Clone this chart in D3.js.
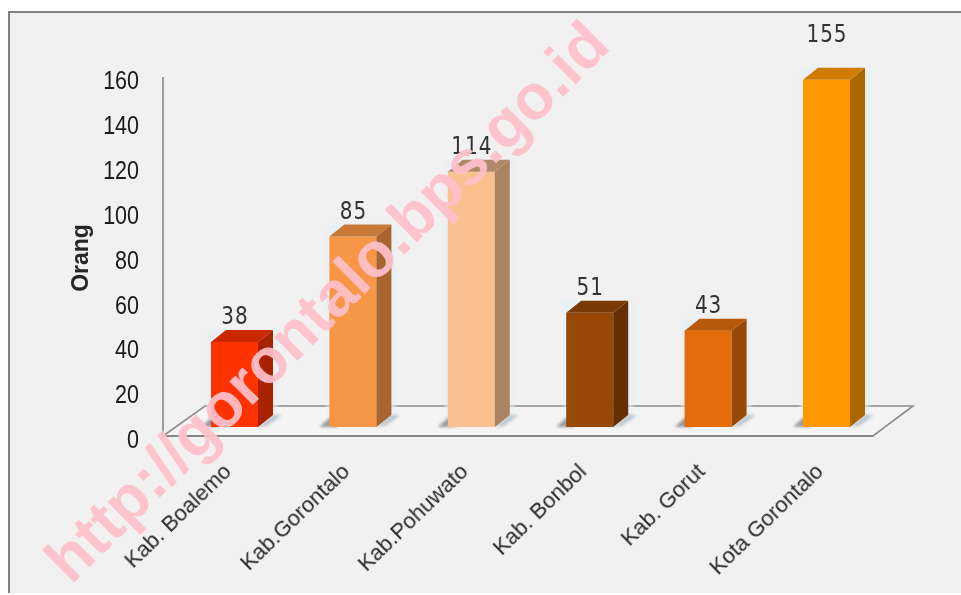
<!DOCTYPE html>
<html><head><meta charset="utf-8">
<script src="https://cdn.jsdelivr.net/npm/d3@7"></script>
<style>html,body{margin:0;padding:0;background:#fff}svg{display:block}text{font-family:"Liberation Sans",Arial,sans-serif}</style>
</head><body><div id="c"></div>
<script>
const categories=["Kab. Boalemo","Kab.Gorontalo","Kab.Pohuwato","Kab. Bonbol","Kab. Gorut","Kota Gorontalo"];
const values=[38,85,114,51,43,155];
const frontColors=["#ff3300","#f79646","#fac090","#984807","#e46c0a","#ff9900"];
const sideColors=["#a82200","#a8652f","#ab8361","#662f02","#984807","#ac6700"];
const topColors=["#c92800","#c87a38","#b08a68","#7a3a05","#b95808","#cf7c00"];
const yTicks=[0,20,40,60,80,100,120,140,160];
const yTitle="Orang";
const watermark="http://gorontalo.bps.go.id";

const W=961,H=595,dx=15,dy=-12;
const svg=d3.select("#c").append("svg").attr("width",W).attr("height",H);
const defs=svg.append("defs");
defs.append("filter").attr("id","soft").attr("x","-30%").attr("y","-30%").attr("width","160%").attr("height","160%")
  .append("feGaussianBlur").attr("stdDeviation",1.6);
defs.append("filter").attr("id","tx").attr("x","-10%").attr("y","-20%").attr("width","120%").attr("height","140%")
  .append("feGaussianBlur").attr("stdDeviation",0.4);

// panel
svg.append("rect").attr("x",0).attr("y",0).attr("width",W).attr("height",H).attr("fill","#fff");
svg.append("rect").attr("x",9).attr("y",12).attr("width",W-9).attr("height",581).attr("fill","#f1f1f1");
svg.append("path").attr("d",`M9,593V12H${W}`).attr("fill","none").attr("stroke","#808080").attr("stroke-width",2);

const y=d3.scaleLinear().domain([0,160]).range([439,80]);      // tick-label positions
const yBar=d3.scaleLinear().domain([0,160]).range([427,68.6]); // bars stand a little behind the front edge
const x=d3.scaleBand().domain(categories).range([175.3,885.7]).paddingInner(0.603).paddingOuter(0.3015);

// floor
svg.append("path").attr("d","M163,436L205,406H913L873,436Z").attr("fill","#f4f4f4").attr("stroke","#8c8c8c").attr("stroke-width",1.6);
svg.append("line").attr("x1",163).attr("x2",163).attr("y1",77).attr("y2",436).attr("stroke","#868686").attr("stroke-width",1.6);
svg.append("line").attr("x1",163).attr("x2",873).attr("y1",436).attr("y2",436).attr("stroke","#868686").attr("stroke-width",2);

// y labels
svg.append("g").selectAll("text").data(yTicks).join("text")
  .attr("transform",d=>`translate(139,${y(d)+9.2}) scale(1,1.2)`).attr("text-anchor","end")
  .attr("font-size",21.5).attr("fill","#1a1a1a").attr("filter","url(#tx)").text(d=>d);
svg.append("text").attr("transform","translate(88,258) rotate(-90)").attr("text-anchor","middle")
  .attr("font-size",23).attr("font-weight","bold").attr("fill","#262626").attr("filter","url(#tx)").text(yTitle);

// bars
const g=svg.append("g").selectAll("g").data(categories).join("g");
// glow behind bars
g.append("path").attr("fill","#e4eef5").attr("opacity",.55).attr("filter","url(#soft)")
  .attr("d",(c,i)=>{const l=x(c),r=l+x.bandwidth()+dx,t=yBar(values[i])+dy;return `M${l-3},${t}H${r+5}V420H${l-3}Z`});
// shadow on floor
g.append("path").attr("filter","url(#soft)").attr("fill","#7d858a").attr("opacity",.8)
  .attr("d",c=>{const l=x(c);return `M${l-10},427L${l},418H${l+8}V427Z`});
g.append("path").attr("filter","url(#soft)").attr("fill","#9aa9b2").attr("opacity",.6)
  .attr("d",c=>{const r=x(c)+x.bandwidth();return `M${r},427L${r+dx},415H${r+dx+9}L${r+9},426Z`});
g.append("rect").attr("x",c=>x(c)).attr("width",x.bandwidth())
  .attr("y",(c,i)=>yBar(values[i])).attr("height",(c,i)=>427-yBar(values[i]))
  .attr("fill",(c,i)=>frontColors[i]);
g.append("path").attr("fill",(c,i)=>sideColors[i])
  .attr("d",(c,i)=>{const r=x(c)+x.bandwidth(),t=yBar(values[i]);return `M${r},${t}l${dx},${dy}V${427+dy}l${-dx},${-dy}Z`});
g.append("path").attr("fill",(c,i)=>topColors[i])
  .attr("d",(c,i)=>{const l=x(c),r=l+x.bandwidth(),t=yBar(values[i]);return `M${l},${t}l${dx},${dy}H${r+dx}l${-dx},${-dy}Z`});
// value labels (the tallest bar's label sits higher, clear of the bar)
g.append("text").attr("transform",(c,i)=>`translate(${x(c)+x.bandwidth()/2+0.5},${yBar(values[i])-(values[i]>150?38:18)}) scale(1,1.2)`)
  .attr("text-anchor","middle").attr("font-size",20).attr("letter-spacing",1)
  .attr("style",'font-family:"DejaVu Sans"').attr("fill","#333").attr("filter","url(#tx)")
  .text((c,i)=>values[i]);
// category labels
g.append("text").attr("transform",c=>`translate(${x(c)+x.bandwidth()/2-2},473) rotate(-44)`)
  .attr("text-anchor","end").attr("font-size",22).attr("fill","#2a2a2a").attr("filter","url(#tx)").text(c=>c);

// watermark
svg.append("text").attr("transform","translate(71,585.5) rotate(-44.8)")
  .attr("font-size",63).attr("font-weight","bold").attr("fill","#ffc0cb").attr("opacity",.93).text(watermark);
</script></body></html>
